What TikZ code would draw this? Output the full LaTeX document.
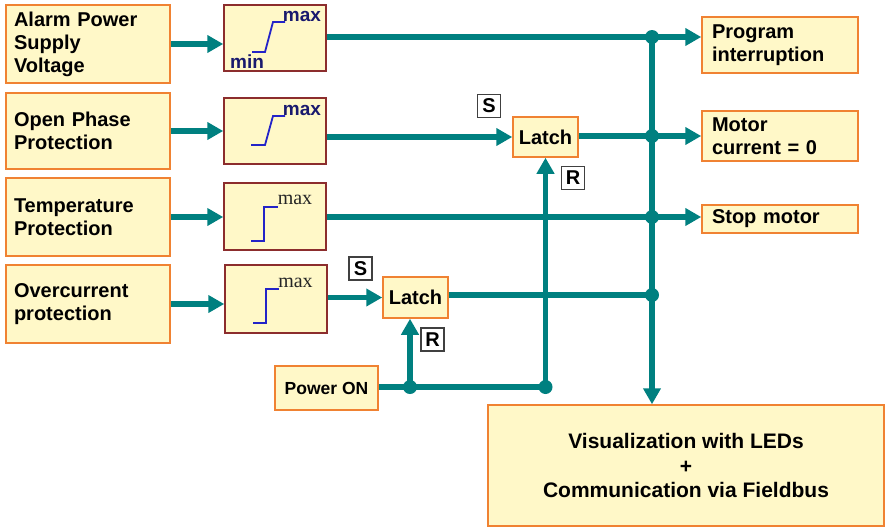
\documentclass[tikz,border=0pt]{standalone}
\usepackage{fontspec}
\setmainfont{Liberation Sans}
\newfontfamily\maxfont{Liberation Serif}
\usepackage{xcolor}
\usetikzlibrary{arrows.meta}

\definecolor{busteal}{RGB}{0,128,128}
\definecolor{boxfill}{RGB}{255,248,200}
\definecolor{boxedge}{RGB}{240,130,50}
\definecolor{thredge}{RGB}{140,45,45}
\definecolor{curveblue}{RGB}{35,35,200}
\definecolor{navytext}{RGB}{25,25,110}

\begin{document}
\begin{tikzpicture}[
    x=1pt, y=-1pt,
    inbox/.style={draw=boxedge, fill=boxfill, line width=1.5pt, rectangle,
        text width=148pt, inner xsep=8pt, align=left,
        font=\fontsize{20}{23}\selectfont\bfseries},
    thrbox/.style={draw=thredge, fill=boxfill, line width=1.5pt, rectangle,
        minimum width=102pt},
    outbox/.style={draw=boxedge, fill=boxfill, line width=1.5pt, rectangle,
        text width=136pt, inner xsep=10pt, inner ysep=2pt, align=left,
        font=\fontsize{20}{23}\selectfont\bfseries},
    latchbox/.style={draw=boxedge, fill=boxfill, line width=1.5pt, rectangle,
        minimum width=65pt, minimum height=40pt, inner sep=1pt,
        font=\fontsize{20}{22}\selectfont\bfseries},
    setreset/.style={draw=black!75, fill=white, line width=1.2pt, rectangle,
        minimum size=23pt, inner sep=0pt,
        font=\fontsize{20}{22}\selectfont\bfseries},
    bus/.style={draw=busteal, line width=5.5pt},
    feed/.style={bus, -{Triangle[length=16pt, width=17pt]}},
    junction/.style={fill=busteal},
    curve/.style={draw=curveblue, line width=1.8pt},
    maxlabel/.style={inner sep=0pt, text=black!85,
        font=\maxfont\fontsize{20}{20}\selectfont},
    bandlabel/.style={inner sep=0pt, text=navytext,
        font=\fontsize{19}{19}\selectfont\bfseries}
]
\useasboundingbox (0,0) rectangle (888,530);

% inputs
\node[inbox, minimum height=78pt] (alarm) at (88,44) {Alarm Power\\Supply\\Voltage};
\node[inbox, minimum height=76pt] (phase) at (88,131) {Open Phase\\Protection};
\node[inbox, minimum height=78pt] (temp) at (88,217) {Temperature\\Protection};
\node[inbox, minimum height=78pt] (overc) at (88,304) {Overcurrent\\protection};

% thresholds
\node[thrbox, minimum height=66pt] (thr1) at (275,38) {};
\node[thrbox, minimum height=66pt] (thr2) at (275,131) {};
\node[thrbox, minimum height=67pt] (thr3) at (275,216.5) {};
\node[thrbox, minimum height=68pt] (thr4) at (276,299) {};

\begin{scope}[shift={(thr1.center)}]
    \draw[curve] (-23,14) -- (-10,14) -- (-2,-16) -- (10,-16);
    \node[bandlabel] (max1) at (27,-22) {max};
    \node[bandlabel] (min1) at (-28,24) {min};
\end{scope}
\begin{scope}[shift={(thr2.center)}]
    \draw[curve] (-24,14) -- (-10,14) -- (-2,-15) -- (10,-15);
    \node[bandlabel] (max2) at (27,-21) {max};
\end{scope}
\begin{scope}[shift={(thr3.center)}]
    \draw[curve] (-24,24.5) -- (-11,24.5) -- (-11,-9.5) -- (3,-9.5);
    \node[maxlabel] (max3) at (20,-17) {max};
\end{scope}
\begin{scope}[shift={(thr4.center)}]
    \draw[curve] (-23,24) -- (-10,24) -- (-10,-10) -- (3,-10);
    \node[maxlabel] (max4) at (19.5,-16) {max};
\end{scope}

% latches and outputs
\node[latchbox] (latch1) at (545.5,137) {Latch};
\node[latchbox, minimum height=41pt] (latch2) at (415.5,297.5) {Latch};
\node[setreset] (set1) at (489,106) {S};
\node[setreset] (reset1) at (573,178) {R};
\node[setreset] (set2) at (360.5,268.5) {S};
\node[setreset] (reset2) at (432.5,339.5) {R};
\node[latchbox, minimum width=103pt, minimum height=44pt,
    font=\fontsize{17.5}{20}\selectfont\bfseries] (power) at (326.5,388) {Power ON};

\node[outbox, minimum height=56pt] (prog) at (780,45) {Program\\interruption};
\node[outbox, minimum height=50pt] (motor) at (780,136) {Motor\\current = 0};
\node[outbox, minimum height=28pt] (stop) at (780,219) {Stop motor};
\node[draw=boxedge, fill=boxfill, line width=1.5pt, minimum width=396pt,
    minimum height=121pt, align=center,
    font=\fontsize{21}{24.5}\selectfont\bfseries] (vis) at (686,465.5)
    {Visualization with LEDs\\+\\Communication via Fieldbus};

\coordinate (j1) at (652,37);
\coordinate (j2) at (652,136);
\coordinate (j3) at (652,217);
\coordinate (j4) at (652,295);
\coordinate (p1) at (410,387);
\coordinate (p2) at (545.5,387);

\draw[feed] (alarm.east) -- (alarm.east -| thr1.west);
\draw[feed] (phase.east) -- (phase.east -| thr2.west);
\draw[feed] (temp.east) -- (temp.east -| thr3.west);
\draw[feed] (overc.east) -- (overc.east -| thr4.west);

\draw[bus] (thr1.east |- j1) -- (j1);
\draw[feed] (j1) -- (j1 -| prog.west);
\draw[feed] (thr2.east |- latch1.west) -- (latch1.west);
\draw[bus] (latch1.east |- j2) -- (j2);
\draw[feed] (j2) -- (j2 -| motor.west);
\draw[bus] (thr3.east |- j3) -- (j3);
\draw[feed] (j3) -- (j3 -| stop.west);
\draw[feed] (thr4.east |- latch2.west) -- (latch2.west);
\draw[bus] (latch2.east |- j4) -- (j4);
\draw[feed] (j1) -- (j1 |- vis.north);

\draw[bus] (power.east |- p1) -- (p2);
\draw[feed] (p1) -- (p1 |- latch2.south);
\draw[feed] (p2) -- (latch1.south);

\foreach \dot in {j1,j2,j3,j4,p1,p2}
    \fill[junction] (\dot) circle (7pt);
\end{tikzpicture}
\end{document}
